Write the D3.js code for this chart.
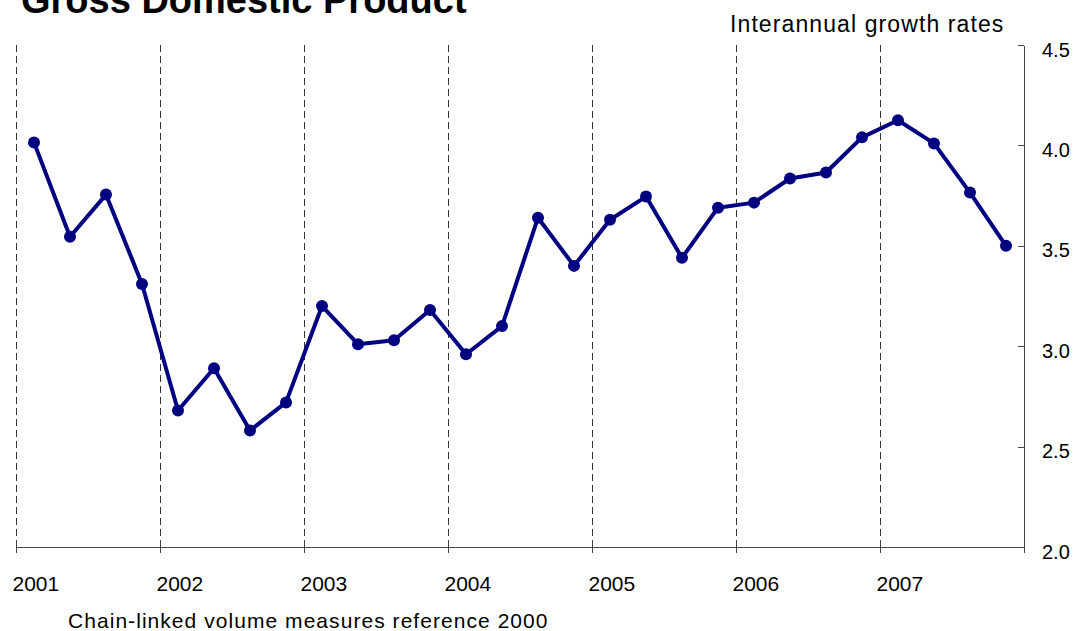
<html><head>
<title>Gross Domestic Product</title>
<script src="https://d3js.org/d3.v7.min.js"></script>
<style>
  body { margin: 0; background: #fff; }
  text { font-family: "Liberation Sans", Arial, sans-serif; fill: #000; }
  .axis path, .axis line { stroke: #444; shape-rendering: crispEdges; }
  .axis text { font-size: 20px; }
</style>
</head>
<body>
<svg id="chart" width="1074" height="631"></svg>

<script>
// GDP interannual growth rates, quarterly 2001-2007
const years = ["2001", "2002", "2003", "2004", "2005", "2006", "2007"];
const quarters = ["Q1", "Q2", "Q3", "Q4"];
const growth = [
  4.015, 3.545, 3.755, 3.31,   // 2001
  2.68, 2.89, 2.58, 2.72,      // 2002
  3.20, 3.01, 3.03, 3.18,      // 2003
  2.96, 3.10, 3.64, 3.40,      // 2004
  3.63, 3.745, 3.44, 3.69,     // 2005
  3.715, 3.835, 3.865, 4.04,   // 2006
  4.125, 4.01, 3.765, 3.50     // 2007
];
const yTicks = [2.0, 2.5, 3.0, 3.5, 4.0, 4.5];

let svg = d3.select("svg#chart");
let margin = { top: 45, right: 50, bottom: 84, left: 16 };
let width = +svg.attr("width");
let height = +svg.attr("height");
let chartWidth = width - margin.left - margin.right;   // 1008
let chartHeight = height - margin.top - margin.bottom; // 502

// each point sits in the middle of its quarter
let data = growth.map((v, i) => ({
  t: Math.floor(i / 4) + (i % 4 + 0.5) / quarters.length,
  v: v
}));

const xScale = d3.scaleLinear().domain([0, years.length]).range([margin.left, margin.left + chartWidth]);
const yScale = d3.scaleLinear().domain([2.0, 4.5]).range([margin.top + chartHeight, margin.top]);

// dashed year separators (+0.5 keeps them crisp)
svg.append("g").selectAll("line")
  .data(years)
  .join("line")
  .attr("x1", (d, i) => xScale(i) + 0.5).attr("x2", (d, i) => xScale(i) + 0.5)
  .attr("y1", yScale(4.5)).attr("y2", yScale(2.0))
  .attr("stroke", "#333")
  .attr("stroke-width", 1)
  .attr("stroke-dasharray", "7,4");

// bottom axis: ticks on year boundaries, labels placed next to them
let bottomAxis = d3.axisBottom(xScale)
  .tickValues(d3.range(0, years.length + 1))
  .tickSize(6)
  .tickSizeOuter(0)
  .tickFormat("");
let xg = svg.append("g")
  .attr("class", "x axis")
  .attr("transform", "translate(0," + yScale(2.0) + ")")
  .call(bottomAxis);
xg.selectAll(".tick line").attr("y1", -6);
xg.selectAll(".tick").filter(d => d < years.length)
  .append("text")
  .attr("x", -4).attr("y", 44)
  .attr("text-anchor", "start")
  .style("font-size", "21px")
  .text(d => years[d]);

// right axis
let rightAxis = d3.axisRight(yScale)
  .tickValues(yTicks)
  .tickSize(0)
  .tickSizeOuter(0)
  .tickPadding(18)
  .tickFormat(d3.format(".1f"));
let yg = svg.append("g")
  .attr("class", "y axis")
  .attr("transform", "translate(" + xScale(years.length) + ",0)")
  .call(rightAxis);
yg.selectAll(".tick line").attr("x1", -6).attr("x2", 0);
yg.selectAll(".tick text").attr("dy", "0.55em");

// the series
let line = d3.line().x(d => xScale(d.t)).y(d => yScale(d.v));
svg.append("path")
  .datum(data)
  .attr("d", line)
  .attr("fill", "none")
  .attr("stroke", "#000080")
  .attr("stroke-width", 4)
  .attr("stroke-linejoin", "round");

svg.append("g").selectAll("circle")
  .data(data)
  .join("circle")
  .attr("cx", d => xScale(d.t))
  .attr("cy", d => yScale(d.v))
  .attr("r", 6)
  .attr("fill", "#000080");

// titles
svg.append("text")
  .attr("x", 21).attr("y", 13)
  .style("font-size", "38px").style("font-weight", "bold")
  .text("Gross Domestic Product");

svg.append("text")
  .attr("x", 730).attr("y", 32)
  .style("font-size", "23px").style("letter-spacing", "1.1px")
  .text("Interannual growth rates");

svg.append("text")
  .attr("x", 68).attr("y", 628)
  .style("font-size", "21px").style("letter-spacing", "1.05px")
  .text("Chain-linked volume measures reference 2000");
</script>
</body>
</html>
